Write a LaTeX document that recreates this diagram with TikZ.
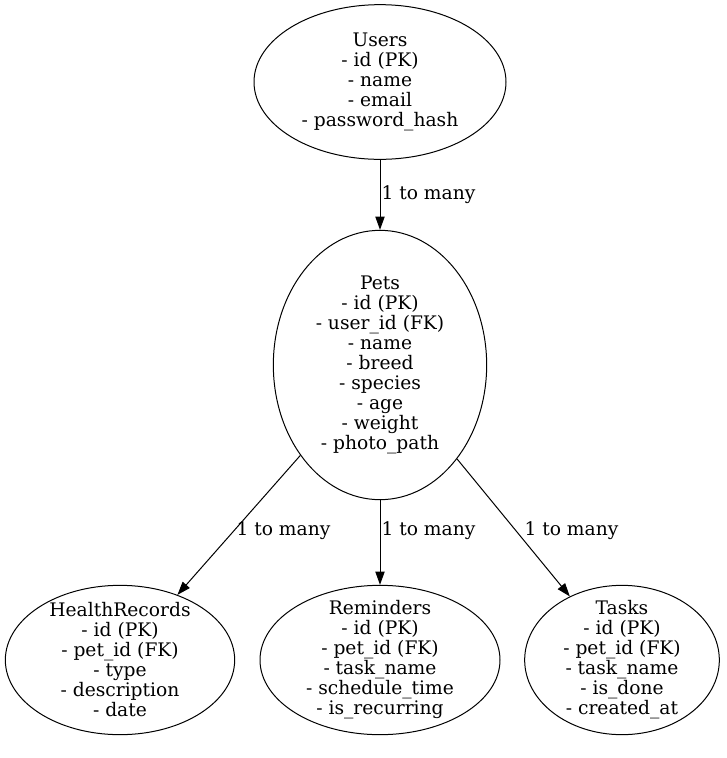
\documentclass[tikz,border=0pt]{standalone}
\usepackage{fontspec}
\setmainfont{DejaVu Serif}
\usetikzlibrary{arrows.meta, positioning, shapes.geometric}

\begin{document}
\begin{tikzpicture}[
            x=0.75pt, y=-0.75pt, line width=0.75pt,
            every node/.style={align=center, font=\fontsize{14}{15}\selectfont},
            table/.style={draw, ellipse, inner xsep=-4pt, inner ysep=-8pt},
            rel/.style={anchor=west, inner sep=0pt},
            every edge/.style={draw, -{Triangle[length=10pt, width=7pt]}}
        ]
        \useasboundingbox (0,0) rectangle (726,758);

        \node[table, minimum width=189pt, minimum height=116pt] (users) at (380,82)
            {Users\\- id (PK)\\- name\\- email\\- password\_hash};
        \node[table, minimum width=160pt, minimum height=202pt] (pets) at (380,365)
            {Pets\\- id (PK)\\- user\_id (FK)\\- name\\- breed\\- species\\- age\\- weight\\- photo\_path};

        \node[table, minimum width=172pt, minimum height=112pt] (health) at (120,660)
            {HealthRecords\\- id (PK)\\- pet\_id (FK)\\- type\\- description\\- date};
        \node[table, minimum width=180pt, minimum height=112pt] (reminders) at (380,660)
            {Reminders\\- id (PK)\\- pet\_id (FK)\\- task\_name\\- schedule\_time\\- is\_recurring};
        \node[table, minimum width=146pt, minimum height=112pt] (tasks) at (622,660)
            {Tasks\\- id (PK)\\- pet\_id (FK)\\- task\_name\\- is\_done\\- created\_at};

        \draw (users) edge (pets);
        \draw (pets) edge (health);
        \draw (pets) edge (reminders);
        \draw (pets) edge (tasks);

        \node[rel] (l_pets) at (381,195) {1 to many};
        \node[rel] (l_health) at (236,531) {1 to many};
        \node[rel] (l_reminders) at (381,531) {1 to many};
        \node[rel] (l_tasks) at (524,531) {1 to many};
\end{tikzpicture}
\end{document}
